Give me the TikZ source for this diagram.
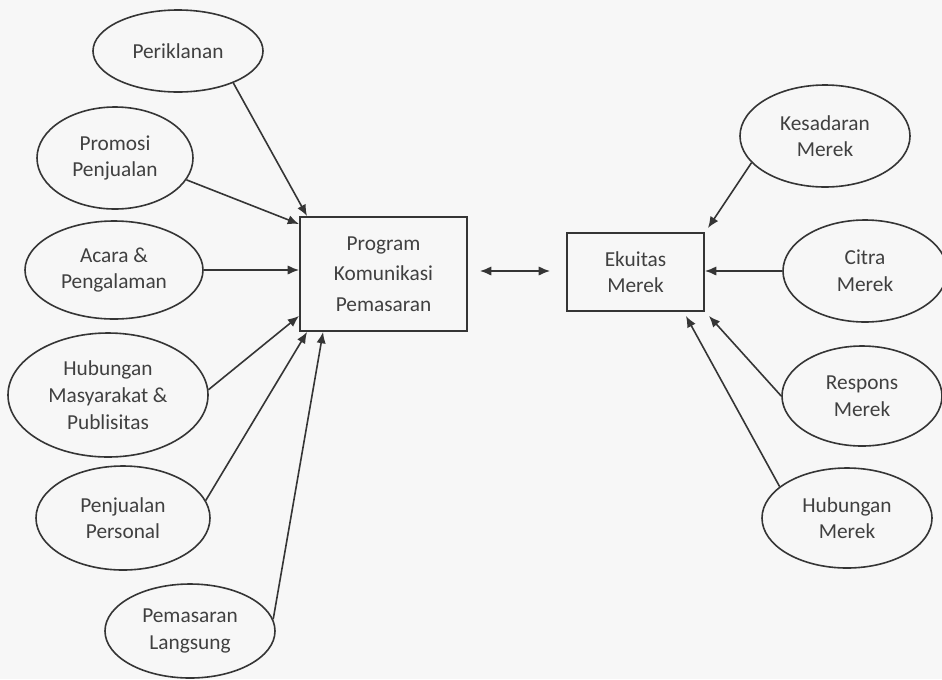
\documentclass[tikz,border=0pt]{standalone}
\usepackage{fontspec}
\setmainfont{Carlito}
\usetikzlibrary{shapes.geometric,arrows.meta,calc}
\definecolor{ln}{HTML}{353535}
\definecolor{tx}{HTML}{404040}
\definecolor{bg}{HTML}{F7F7F7}
\begin{document}
\begin{tikzpicture}[x=0.75pt,y=-0.75pt,
  oval/.style={draw=ln,line width=1.2pt,ellipse,inner sep=0pt,align=center,text=tx,font=\fontsize{16}{20}\selectfont},
  boxn/.style={draw=ln,line width=1.4pt,rectangle,inner sep=0pt,align=center,text=tx},
  arr/.style={draw=ln,line width=1.2pt,-{Latex[length=8.5pt,width=7pt]}},
  darr/.style={draw=ln,line width=1.2pt,{Latex[length=8.5pt,width=7pt]}-{Latex[length=8.5pt,width=7pt]}}]
\useasboundingbox (0,0) rectangle (942,679);
\fill[bg] (0,0) rectangle (942,679);

% central boxes
\node[boxn,minimum width=125.25pt,minimum height=85.5pt,font=\fontsize{16}{23}\selectfont] (prog) at (383.5,274) {Program\\Komunikasi\\Pemasaran};
\node[boxn,minimum width=102.75pt,minimum height=58.5pt,font=\fontsize{16}{19.5}\selectfont] (ek) at (635.5,272) {Ekuitas\\Merek};

% left ellipses
\node[oval,minimum width=127.5pt,minimum height=61.5pt] (peri) at (178,51) {Periklanan};
\node[oval,minimum width=117pt,minimum height=76.5pt] (promo) at (115,158) {Promosi\\Penjualan};
\node[oval,minimum width=133.5pt,minimum height=73.5pt] (acara) at (114,270) {Acara \&\\Pengalaman};
\node[oval,minimum width=150pt,minimum height=93pt] (hubm) at (108,395) {Hubungan\\Masyarakat \&\\Publisitas};
\node[oval,minimum width=130.5pt,minimum height=78pt] (penj) at (123,518) {Penjualan\\Personal};
\node[oval,minimum width=127.5pt,minimum height=70.5pt] (pemas) at (190,631) {Pemasaran\\Langsung};

% right ellipses
\node[oval,minimum width=127.5pt,minimum height=76.5pt] (kes) at (825,136) {Kesadaran\\Merek};
\node[oval,minimum width=123pt,minimum height=76.5pt] (citra) at (865,271) {Citra\\Merek};
\node[oval,minimum width=120pt,minimum height=75pt] (resp) at (862,396) {Respons\\Merek};
\node[oval,minimum width=127.5pt,minimum height=75pt] (hubmer) at (847,518) {Hubungan\\Merek};

% connectors left
\draw[arr] (peri.-30) -- ($(prog.north west)+(8,0)$);
\draw[arr] (promo.-17) -- ($(prog.north west)+(0,8)$);
\draw[arr] (acara.east) -- (acara.east -| prog.west);
\draw[arr] (hubm.3) -- ($(prog.south west)+(0,-16)$);
\draw[arr] (penj.12) -- ($(prog.south west)+(8,0)$);
\draw[arr] (pemas.8) -- ($(prog.south west)+(24,0)$);

% middle
\draw[darr] ($(prog.east)+(12,-3)$) -- ($(ek.west)+(-16,-1)$);

% connectors right
\draw[arr] (kes.200) -- ($(ek.north east)+(3,-4)$);
\draw[arr] (citra.west) -- (citra.west -| ek.east);
\draw[arr] (resp.west) -- ($(ek.south east)+(4,4)$);
\draw[arr] (hubmer.155) -- ($(ek.south east)+(-19,4)$);
\end{tikzpicture}
\end{document}
